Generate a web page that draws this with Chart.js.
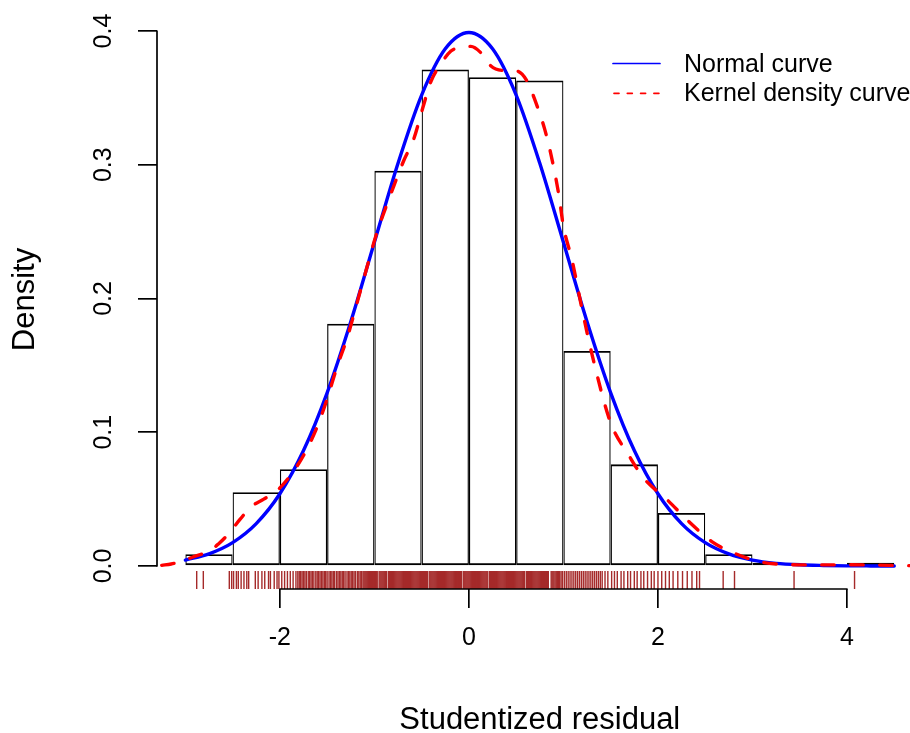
<!DOCTYPE html>
<html><head><meta charset="utf-8"><title>Studentized residual density</title>
<script src="https://cdn.jsdelivr.net/npm/chart.js@4.4.1/dist/chart.umd.min.js"></script>
<style>html,body{margin:0;padding:0;background:#fff;overflow:hidden;width:910px;height:733px}canvas{display:block}</style>
</head><body>
<canvas id="chart" width="942" height="733"></canvas>
<script>
// ---------- data ----------
const binEdges = [-3, -2.5, -2, -1.5, -1, -0.5, 0, 0.5, 1, 1.5, 2, 2.5, 3, 3.5, 4, 4.5];
const binDensity = [0.0088, 0.0552, 0.0724, 0.1812, 0.2955, 0.3712, 0.3655, 0.3630, 0.1608, 0.0760, 0.0397, 0.0088, 0.0025, 0.0000, 0.0025];

const normalX = [-3, -2.75, -2.5, -2.25, -2, -1.75, -1.5, -1.25, -1, -0.75, -0.5, -0.25, 0, 0.25, 0.5, 0.75, 1, 1.25, 1.5, 1.75, 2, 2.25, 2.5, 2.75, 3, 3.25, 3.5, 3.75, 4, 4.25, 4.5];
const normalY = [0.0044, 0.0091, 0.0175, 0.0317, 0.0540, 0.0863, 0.1295, 0.1826, 0.2420, 0.3011, 0.3521, 0.3867, 0.3989, 0.3867, 0.3521, 0.3011, 0.2420, 0.1826, 0.1295, 0.0863, 0.0540, 0.0317, 0.0175, 0.0091, 0.0044, 0.0020, 0.0009, 0.0004, 0.0001, 0.00005, 0.00002];

const kernelX = [-3.25, -3.15, -3.05, -2.92, -2.74, -2.65, -2.56, -2.42, -2.31, -2.17, -2.03, -1.89, -1.75, -1.60, -1.50, -1.39, -1.29, -1.20, -1.10, -0.97, -0.88, -0.79, -0.69, -0.58, -0.49, -0.40, -0.30, -0.19, -0.08, 0.02, 0.13, 0.23, 0.36, 0.51, 0.62, 0.69, 0.80, 0.87, 0.95, 1.00, 1.09, 1.20, 1.31, 1.50, 1.69, 1.85, 2.09, 2.34, 2.57, 2.81, 3.10, 3.34, 3.70, 4.00, 4.30, 4.60, 4.85];
const kernelY = [0.0005, 0.0015, 0.0033, 0.0067, 0.0115, 0.0165, 0.0227, 0.0350, 0.0440, 0.0500, 0.0564, 0.0676, 0.0826, 0.1050, 0.1250, 0.1500, 0.1700, 0.1925, 0.2180, 0.2500, 0.2680, 0.2850, 0.3030, 0.3200, 0.3420, 0.3625, 0.3750, 0.3850, 0.3880, 0.3885, 0.3835, 0.3740, 0.3705, 0.3700, 0.3620, 0.3500, 0.3270, 0.3070, 0.2780, 0.2540, 0.2290, 0.1910, 0.1560, 0.1070, 0.0830, 0.0656, 0.0500, 0.0324, 0.0182, 0.0095, 0.0028, 0.0012, 0.0008, 0.0009, 0.0007, 0.0003, 0.0001];

const rugValues = [
  -2.88, -2.81,
  -2.535, -2.51, -2.49, -2.46, -2.44, -2.41, -2.38, -2.35, -2.33,
  -2.26, -2.23, -2.19, -2.16, -2.12, -2.10, -2.06, -2.03, -2.01, -1.98, -1.95, -1.92, -1.89, -1.86, -1.83,
  -1.81, -1.795, -1.78, -1.765, -1.75, -1.735, -1.72, -1.70, -1.685, -1.67, -1.655, -1.64, -1.62, -1.605, -1.59, -1.575, -1.56, -1.545, -1.53, -1.515, -1.50, -1.48, -1.465, -1.45, -1.435, -1.42, -1.40, -1.385, -1.37, -1.355, -1.34, -1.325, -1.31, -1.29, -1.275, -1.26, -1.245, -1.23, -1.215, -1.20, -1.18, -1.165, -1.15, -1.135, -1.12,
  -1.11, -1.10, -1.09, -1.08, -1.07, -1.06, -1.05, -1.04, -1.03, -1.02, -1.01, -1.00, -0.99, -0.98, -0.97, -0.95, -0.94, -0.93, -0.92, -0.91, -0.90, -0.89, -0.88, -0.87,
  -0.85, -0.84, -0.83, -0.82, -0.81, -0.80, -0.79, -0.78, -0.77, -0.76, -0.75, -0.74, -0.73, -0.72, -0.71, -0.70, -0.69, -0.68, -0.67, -0.66, -0.65, -0.64, -0.63, -0.62, -0.61, -0.60,
  -0.59, -0.58, -0.57, -0.56, -0.55, -0.54, -0.53, -0.52, -0.51, -0.50, -0.49, -0.48, -0.47, -0.46, -0.45, -0.44, -0.42, -0.41, -0.40, -0.39, -0.38, -0.37, -0.36, -0.35, -0.34,
  -0.33, -0.32, -0.31, -0.30, -0.29, -0.28, -0.27, -0.26, -0.25, -0.24, -0.23, -0.22, -0.21, -0.20, -0.19, -0.18, -0.17, -0.16, -0.15, -0.14, -0.13, -0.12, -0.11, -0.10, -0.09, -0.08,
  -0.06, -0.05, -0.04, -0.03, -0.02, -0.01, 0.00, 0.01, 0.02, 0.03, 0.04, 0.05, 0.06, 0.07, 0.08, 0.09, 0.10, 0.11, 0.12, 0.13, 0.14, 0.15, 0.16, 0.17, 0.18, 0.19, 0.20,
  0.22, 0.23, 0.24, 0.25, 0.26, 0.27, 0.28, 0.29, 0.30, 0.31, 0.32, 0.33, 0.34, 0.35, 0.36, 0.37, 0.38, 0.39, 0.40, 0.41, 0.42, 0.43, 0.44, 0.45, 0.46, 0.47, 0.48, 0.49, 0.50,
  0.51, 0.52, 0.53, 0.54, 0.55, 0.56, 0.57, 0.58, 0.59, 0.61, 0.62, 0.63, 0.64, 0.65, 0.66, 0.67, 0.68, 0.69, 0.70, 0.71, 0.72, 0.73, 0.74, 0.75, 0.76, 0.77, 0.78, 0.79, 0.80,
  0.81, 0.82, 0.83, 0.84, 0.87, 0.88, 0.89, 0.90, 0.912, 0.924, 0.936, 0.948, 0.96, 0.975, 0.99,
  1.01, 1.03, 1.05, 1.07, 1.09, 1.11, 1.13, 1.15, 1.17, 1.19, 1.21, 1.23, 1.25, 1.27, 1.29, 1.31, 1.33, 1.35, 1.37, 1.39, 1.41, 1.44,
  1.47, 1.51, 1.54, 1.57, 1.61, 1.64, 1.68, 1.71, 1.75, 1.78, 1.82, 1.85, 1.89, 1.93, 1.96, 2.00, 2.04, 2.08, 2.12, 2.16, 2.21, 2.26, 2.31, 2.36, 2.41, 2.44,
  2.69, 2.81, 3.44, 4.08
];

const xTickValues = [-2, 0, 2, 4];
const xTickLabels = ['-2', '0', '2', '4'];
const yTickValues = [0, 0.1, 0.2, 0.3, 0.4];
const yTickLabels = ['0.0', '0.1', '0.2', '0.3', '0.4'];
const legendLabels = ['Normal curve', 'Kernel density curve'];
const xAxisTitle = 'Studentized residual';
const yAxisTitle = 'Density';

// ---------- styling / layout ----------
const FONT = '"Liberation Sans", Arial, Helvetica, sans-serif';
const LWD = 1.7;            // one R line-width unit in px
const RUG_LEVEL = -0.0105;  // centre of the rug ticks in density units
const BLUE = '#0000FF', RED = '#FF0000', BROWN = '#A52A2A';

const histData = binDensity.map((d, i) => ({ x: (binEdges[i] + binEdges[i + 1]) / 2, y: d }));
const normalData = normalX.map((x, i) => ({ x: x, y: normalY[i] }));
const kernelData = kernelX.map((x, i) => ({ x: x, y: kernelY[i] }));
const rugData = rugValues.map(v => ({ x: v, y: RUG_LEVEL }));

const rAxesPlugin = {
  id: 'rAxes',
  afterDraw(chart) {
    const { ctx, chartArea, scales } = chart;
    const xs = scales.x, ys = scales.y;
    ctx.save();
    ctx.strokeStyle = '#000';
    ctx.lineWidth = LWD;
    ctx.lineCap = 'round';
    // x axis line (between first and last tick)
    ctx.beginPath();
    ctx.moveTo(xs.getPixelForValue(xTickValues[0]), chartArea.bottom);
    ctx.lineTo(xs.getPixelForValue(xTickValues[xTickValues.length - 1]), chartArea.bottom);
    ctx.stroke();
    // y axis line
    ctx.beginPath();
    ctx.moveTo(chartArea.left, ys.getPixelForValue(yTickValues[0]));
    ctx.lineTo(chartArea.left, ys.getPixelForValue(yTickValues[yTickValues.length - 1]));
    ctx.stroke();
    // rotated y tick labels
    ctx.fillStyle = '#000';
    ctx.font = '25px ' + FONT;
    ctx.textAlign = 'center';
    ctx.textBaseline = 'middle';
    yTickValues.forEach((v, i) => {
      ctx.save();
      ctx.translate(chartArea.left - 53, ys.getPixelForValue(v));
      ctx.rotate(-Math.PI / 2);
      ctx.fillText(yTickLabels[i], 0, 0);
      ctx.restore();
    });
    // legend (no box)
    const rows = [63.5, 93.3];
    const lx0 = 613, lx1 = 660, tx = 684;
    ctx.lineWidth = LWD;
    ctx.lineCap = 'round';
    ctx.strokeStyle = BLUE;
    ctx.setLineDash([]);
    ctx.beginPath(); ctx.moveTo(lx0, rows[0]); ctx.lineTo(lx1, rows[0]); ctx.stroke();
    ctx.strokeStyle = RED;
    ctx.setLineDash([5, 8.3]);
    ctx.beginPath(); ctx.moveTo(lx0 + 1, rows[1]); ctx.lineTo(lx1, rows[1]); ctx.stroke();
    ctx.setLineDash([]);
    ctx.textAlign = 'left';
    ctx.fillStyle = '#000';
    ctx.fillText(legendLabels[0], tx, rows[0] + 1.2);
    ctx.fillText(legendLabels[1], tx, rows[1] + 0.5);
    ctx.restore();
  }
};

new Chart(document.getElementById('chart'), {
  type: 'scatter',
  data: {
    datasets: [
      {
        type: 'bar', label: 'Histogram', data: histData,
        backgroundColor: 'rgba(255,255,255,0)', borderColor: '#000',
        borderWidth: { top: 1.8, bottom: 1.8, left: 1.2, right: 1.2 },
        borderSkipped: false, barPercentage: 1, categoryPercentage: 1, inflateAmount: 0,
        order: 4
      },
      {
        type: 'line', label: legendLabels[0], data: normalData,
        borderColor: BLUE, borderWidth: 2 * LWD, pointRadius: 0, showLine: true, fill: false,
        cubicInterpolationMode: 'monotone', borderCapStyle: 'round', borderJoinStyle: 'round',
        order: 3
      },
      {
        type: 'line', label: legendLabels[1], data: kernelData,
        borderColor: RED, borderWidth: 2 * LWD, borderDash: [12.5, 16.5], borderCapStyle: 'round',
        borderJoinStyle: 'round', pointRadius: 0, showLine: true, fill: false,
        cubicInterpolationMode: 'monotone', order: 2
      },
      {
        type: 'scatter', label: 'Rug', data: rugData,
        pointStyle: 'line', pointRotation: 90, pointRadius: 9,
        pointBorderColor: BROWN, pointBackgroundColor: BROWN, pointBorderWidth: 1.4,
        order: 1
      }
    ]
  },
  options: {
    responsive: false, animation: false, events: [], devicePixelRatio: 1,
    layout: { autoPadding: false, padding: { top: 10, left: 0, bottom: 0, right: 19.4 } },
    plugins: { legend: { display: false }, tooltip: { enabled: false } },
    scales: {
      x: {
        type: 'linear', min: -3.3, max: 4.8, offset: false,
        afterFit(s) { s.height = 144; },
        afterBuildTicks(s) { s.ticks = xTickValues.map(v => ({ value: v })); },
        border: { display: false },
        grid: { display: true, drawOnChartArea: false, drawTicks: true, tickLength: 19, color: '#000', tickColor: '#000', lineWidth: LWD, tickWidth: LWD, offset: false },
        ticks: { autoSkip: false, maxRotation: 0, minRotation: 0, padding: 15, color: '#000', font: { family: FONT, size: 25, lineHeight: 1.2 }, callback: (v, i) => xTickLabels[i] },
        title: { display: true, text: xAxisTitle, color: '#000', font: { family: FONT, size: 31, lineHeight: 0.8 }, padding: { top: 0, bottom: 0 } }
      },
      y: {
        type: 'linear', min: -0.0172, max: 0.4157,
        afterFit(s) { s.width = 157; },
        afterBuildTicks(s) { s.ticks = yTickValues.map(v => ({ value: v })); },
        border: { display: false },
        grid: { display: true, drawOnChartArea: false, drawTicks: true, tickLength: 19, color: '#000', tickColor: '#000', lineWidth: LWD, tickWidth: LWD },
        ticks: { display: false },
        title: { display: true, text: yAxisTitle, color: '#000', font: { family: FONT, size: 31, lineHeight: 1.2 }, padding: { top: 7, bottom: 7 } }
      }
    }
  },
  plugins: [rAxesPlugin]
});
</script>
</body></html>
